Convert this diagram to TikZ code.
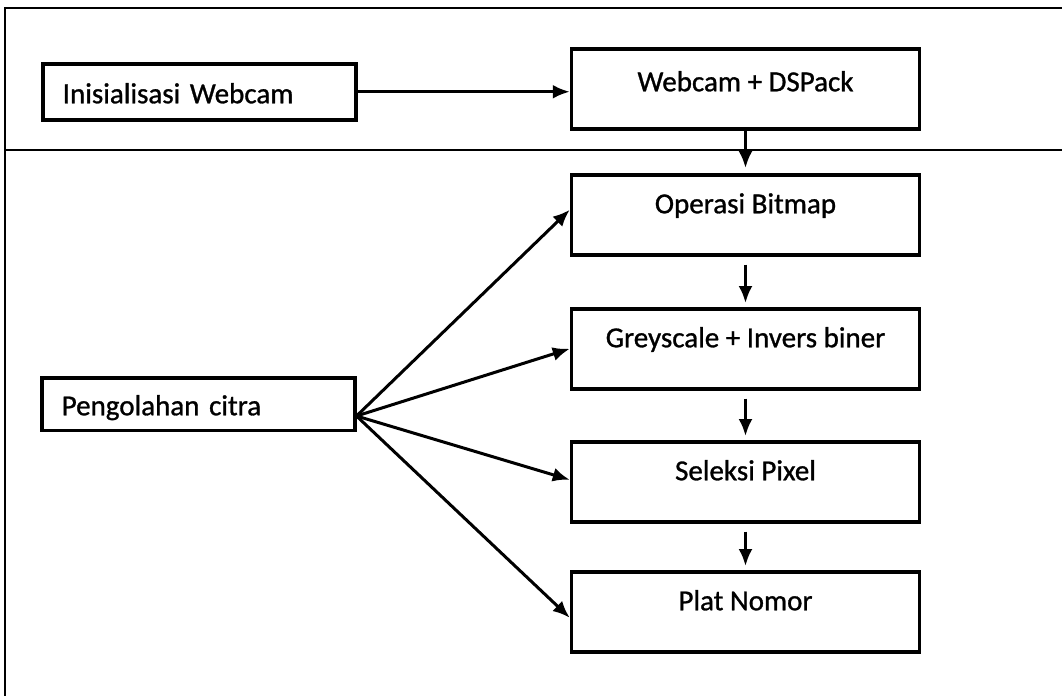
\documentclass[tikz,border=0pt]{standalone}
\usepackage{fontspec}
\setmainfont[FakeBold=1]{Carlito}
\usetikzlibrary{arrows.meta}
\begin{document}
\begin{tikzpicture}[x=1pt,y=-1pt,
  frame/.style={line width=2.5pt,black},
  stepbox/.style={draw,line width=3.5pt,inner ysep=0pt,font=\fontsize{29}{34}\selectfont},
  rbox/.style={stepbox,anchor=north,minimum width=348pt,inner xsep=0pt,text height=38.5pt,text depth=41.5pt},
  lbox/.style={stepbox,anchor=north west,text width=273pt,inner xsep=20pt,align=left},
  arr/.style={line width=3pt,-{Latex[length=17pt,width=14pt]}}]
\useasboundingbox (0,0) rectangle (1062,696);
% frame
\draw[frame] (1062,8) -- (5,8) -- (5,696);
\draw[frame] (5,150) -- (1062,150);
% left boxes
\node[lbox,text height=39.5pt,text depth=16.5pt] (i) at (41,62) {Inisialisasi Webcam};
\node[lbox,text height=37.5pt,text depth=15pt] (p) at (40,376) {Pengolahan citra};
% right boxes
\node[rbox,text height=42.5pt,text depth=37.5pt] (w) at (745.5,47) {Webcam + DSPack};
\node[rbox] (o) at (745.5,173) {Operasi Bitmap};
\node[rbox] (g) at (745.5,307) {Greyscale + Invers biner};
\node[rbox] (s) at (745.5,440) {Seleksi Pixel};
\node[rbox] (n) at (745.5,570) {Plat Nomor};
% connectors
\draw[arr] (i.east) -- (i.east -| w.west);
\draw[arr,shorten >=5pt] (w.south) -- (o.north);
\draw[arr,shorten <=8pt,shorten >=4pt] (o.south) -- (g.north);
\draw[arr,shorten <=8pt,shorten >=4pt] (g.south) -- (s.north);
\draw[arr,shorten <=8pt,shorten >=4pt] (s.south) -- (n.north);
\coordinate (hub) at ([yshift=-12pt]p.east);
\draw[arr] (hub) -- ([yshift=5pt]o.west);
\draw[arr] (hub) -- (g.west);
\draw[arr] (hub) -- ([yshift=2pt]s.west);
\draw[arr] (hub) -- ([yshift=-6pt]n.west);
\end{tikzpicture}
\end{document}
